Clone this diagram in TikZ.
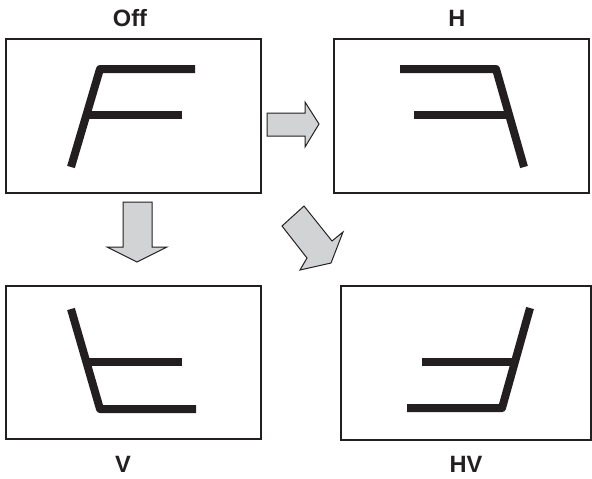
\documentclass[tikz,border=0pt]{standalone}
\usepackage{fontspec}
\setmainfont{Liberation Sans}
\definecolor{arrowfill}{RGB}{210,211,213}
\definecolor{ink}{RGB}{35,31,32}
\begin{document}
\begin{tikzpicture}[x=0.5pt,y=-0.5pt,
  frame/.style={draw=ink,line width=0.75pt},
  glyph/.style={draw=ink,line width=4pt,line cap=butt,line join=round},
  bigarrow/.style={draw=ink,fill=arrowfill,line width=0.5pt,line join=miter},
  lbl/.style={anchor=base,inner sep=0pt,font=\fontsize{11.8}{13}\selectfont\bfseries,text=ink}]
\useasboundingbox (0,0) rectangle (592,478);
% frames
\draw[frame] (6,39) rectangle (261,193);
\draw[frame] (334,39) rectangle (589,193);
\draw[frame] (6,286) rectangle (261,439);
\draw[frame] (341,286) rectangle (591,440);
% labels
\node[lbl] (off) at (130,26) {Off};
\node[lbl] (h) at (457,26) {H};
\node[lbl] (v) at (123,472) {V};
\node[lbl] (hv) at (466,472) {HV};
% Off
\draw[glyph] (195,69) -- (100,69) -- (71,167);
\draw[glyph] (182,115) -- (86,115);
% H
\draw[glyph] (400,69) -- (496,69) -- (524,167);
\draw[glyph] (414,115) -- (509,115);
% V
\draw[glyph] (196,409) -- (100,409) -- (71,309);
\draw[glyph] (182,362) -- (86,362);
% HV
\draw[glyph] (407,408) -- (502,408) -- (530,308);
\draw[glyph] (422,362) -- (515,362);
% arrows
\draw[bigarrow] (267,113) -- (305,113) -- (305,102) -- (319,124) -- (305,147) -- (305,136) -- (267,136) -- cycle;
\draw[bigarrow] (123,202) -- (152,202) -- (152,247) -- (167,247) -- (137,262) -- (107,247) -- (123,247) -- cycle;
\draw[bigarrow] (282,226) -- (304,206) -- (332,241) -- (343,232) -- (331,263) -- (300,270) -- (307,258) -- cycle;
\end{tikzpicture}
\end{document}
